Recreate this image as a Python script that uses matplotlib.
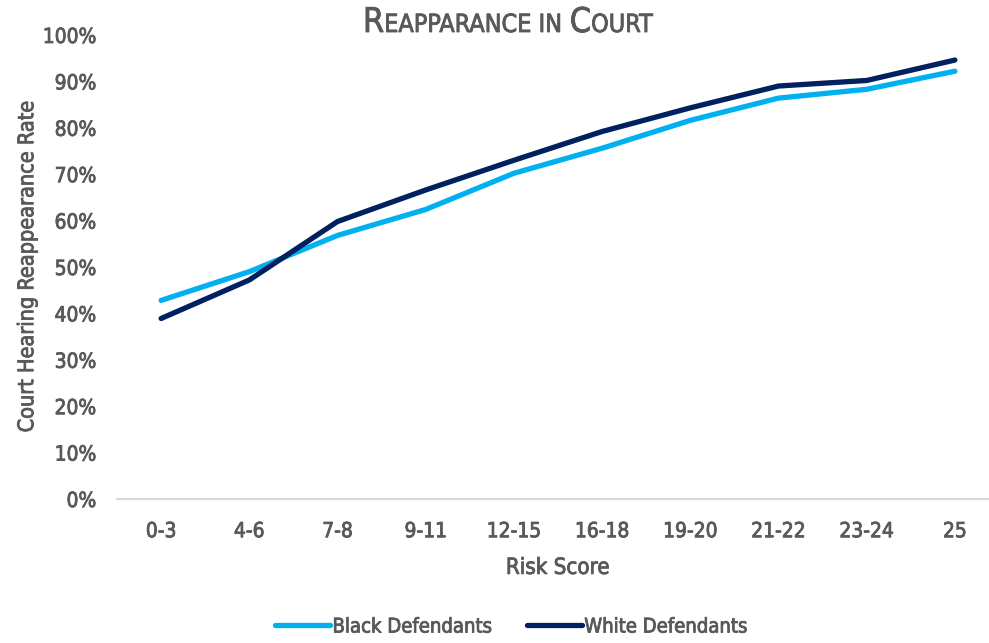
import matplotlib
matplotlib.use("Agg")
import matplotlib.pyplot as plt
import matplotlib.patheffects as pe
from matplotlib.offsetbox import TextArea, HPacker, AnchoredOffsetbox
from matplotlib.ticker import PercentFormatter

categories = ["0-3", "4-6", "7-8", "9-11", "12-15", "16-18", "19-20", "21-22", "23-24", "25"]
black_def = [42.8, 49.0, 56.8, 62.4, 70.2, 75.6, 81.6, 86.4, 88.3, 92.2]
white_def = [38.9, 47.2, 59.8, 66.6, 73.0, 79.2, 84.3, 89.0, 90.2, 94.6]

GRAY = "#595959"
plt.rcParams["font.family"] = "DejaVu Sans"
plt.rcParams["font.stretch"] = "condensed"
THICK = [pe.withStroke(linewidth=0.6, foreground=GRAY)]

fig = plt.figure(figsize=(9.89, 6.43), dpi=100)
W, H = 989, 643
ax = fig.add_axes([117 / W, (H - 499) / H, (999 - 117) / W, (499 - 35) / H])

x = list(range(len(categories)))
ax.plot(x, black_def, color="#00B0F0", lw=3.8, solid_capstyle="round", solid_joinstyle="round",
        label="Black Defendants")
ax.plot(x, white_def, color="#002060", lw=3.8, solid_capstyle="round", solid_joinstyle="round",
        label="White Defendants")

ax.set_xlim(-0.5, len(categories) - 0.5)
ax.set_ylim(0, 100)
ax.set_yticks(range(0, 101, 10))
ax.yaxis.set_major_formatter(PercentFormatter(decimals=0))
ax.set_xticks(x)
ax.set_xticklabels(categories)
for s in ["top", "right", "left"]:
    ax.spines[s].set_visible(False)
ax.spines["bottom"].set_color("#D9D9D9")
ax.spines["bottom"].set_linewidth(1.5)
ax.tick_params(axis="both", length=0, labelsize=15, labelcolor=GRAY)
ax.tick_params(axis="x", pad=16)
ax.tick_params(axis="y", pad=15)
for lab in ax.get_xticklabels() + ax.get_yticklabels():
    lab.set_path_effects(THICK)

xl = ax.set_xlabel("Risk Score", fontsize=16, color=GRAY, labelpad=12)
yl = ax.set_ylabel("Court Hearing Reappearance Rate", fontsize=15.5, color=GRAY, labelpad=4)
xl.set_path_effects(THICK)
yl.set_path_effects(THICK)

# Small-caps title
big, small = 24.5, 18
parts = [("R", big), ("EAPPARANCE IN ", small), ("C", big), ("OURT", small)]
areas = [TextArea(t, textprops=dict(fontsize=s, color=GRAY, family="DejaVu Sans", stretch="condensed",
                                    path_effects=THICK))
         for t, s in parts]
pack = HPacker(children=areas, align="baseline", pad=0, sep=0)
ab = AnchoredOffsetbox(loc="upper center", child=pack, frameon=False,
                       bbox_to_anchor=(508 / W, 1 - 6 / H), bbox_transform=fig.transFigure,
                       borderpad=0, pad=0)
fig.add_artist(ab)

leg = fig.legend(loc="center", bbox_to_anchor=(511 / W, 1 - 627 / H), ncol=2, frameon=False,
                 fontsize=14.5, handlelength=2.75, handletextpad=0.1, columnspacing=1.75)
for t in leg.get_texts():
    t.set_color(GRAY)
    t.set_path_effects(THICK)

fig.savefig("out.png", dpi=100)
